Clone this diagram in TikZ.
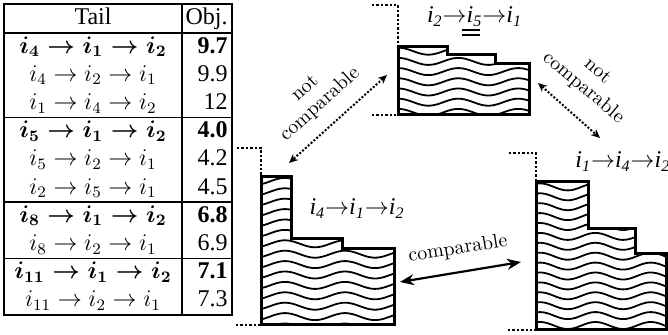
\documentclass[tikz,border=0pt]{standalone}
\usepackage{fontspec}
\newfontfamily\tnr{Liberation Serif}
\usetikzlibrary{arrows.meta}
\begin{document}
\begin{tikzpicture}[x=0.5pt,y=-0.5pt,
  tline/.style={line width=0.55pt},
  tsep/.style={line width=0.75pt},
  celltxt/.style={inner sep=0pt,anchor=base,font=\fontsize{12}{14}\selectfont},
  boldrow/.style={inner sep=0pt,anchor=base,font=\fontsize{12}{14}\selectfont\boldmath},
  cellnum/.style={inner sep=0pt,anchor=base east,font=\tnr\fontsize{12}{14}\selectfont},
  boldnum/.style={inner sep=0pt,anchor=base east,font=\tnr\fontsize{12}{14}\selectfont\bfseries},
  outline/.style={line width=1.5pt,line join=miter},
  wave/.style={line width=0.9pt},
  bracket/.style={line width=1.4pt,dash pattern=on 1.2pt off 1pt},
  dotarrow/.style={line width=1pt,dash pattern=on 1pt off 0.9pt,{Stealth[length=4.5pt,width=4pt]}-{Stealth[length=4.5pt,width=4pt]}},
  solidarrow/.style={line width=1.1pt,{Stealth[length=7pt,width=5.5pt]}-{Stealth[length=7pt,width=5.5pt]}},
  lbl/.style={inner sep=0pt,align=center,font=\fontsize{10}{11}\selectfont},
  seq/.style={inner sep=0pt,anchor=base,font=\tnr\itshape\fontsize{12}{14}\selectfont}
]
\useasboundingbox (0,0) rectangle (668,335);
\clip (0,0) rectangle (668,335);

% ---------- table ----------
\draw[tsep] (4,4) rectangle (232,315);
\draw[tline] (182,4) -- (182,315);
\draw[tline] (4,33) -- (232,33);
\draw[tsep] (4,117.6) -- (232,117.6);
\draw[tsep] (4,202.2) -- (232,202.2);
\draw[tsep] (4,258.6) -- (232,258.6);

\node[celltxt,font=\tnr\fontsize{12}{14}\selectfont] (hT) at (93,25) {Tail};
\node[cellnum] (hO) at (228,25) {Obj.};

\node[boldrow] (r1) at (93,53.2) {$i_4 \rightarrow i_1 \rightarrow i_2$};
\node[boldnum] (v1) at (228,53.2) {9.7};
\node[celltxt] (r2) at (93,81.4) {$i_4 \rightarrow i_2 \rightarrow i_1$};
\node[cellnum] (v2) at (228,81.4) {9.9};
\node[celltxt] (r3) at (93,109.6) {$i_1 \rightarrow i_4 \rightarrow i_2$};
\node[cellnum] (v3) at (228,109.6) {12};

\node[boldrow] (r4) at (93,137.8) {$i_5 \rightarrow i_1 \rightarrow i_2$};
\node[boldnum] (v4) at (228,137.8) {4.0};
\node[celltxt] (r5) at (93,166) {$i_5 \rightarrow i_2 \rightarrow i_1$};
\node[cellnum] (v5) at (228,166) {4.2};
\node[celltxt] (r6) at (93,194.2) {$i_2 \rightarrow i_5 \rightarrow i_1$};
\node[cellnum] (v6) at (228,194.2) {4.5};

\node[boldrow] (r7) at (93,222.4) {$i_8 \rightarrow i_1 \rightarrow i_2$};
\node[boldnum] (v7) at (228,222.4) {6.8};
\node[celltxt] (r8) at (93,250.6) {$i_8 \rightarrow i_2 \rightarrow i_1$};
\node[cellnum] (v8) at (228,250.6) {6.9};

\node[boldrow] (r9) at (93,278.8) {$i_{11} \rightarrow i_1 \rightarrow i_2$};
\node[boldnum] (v9) at (228,278.8) {7.1};
\node[celltxt] (r10) at (93,307) {$i_{11} \rightarrow i_2 \rightarrow i_1$};
\node[cellnum] (v10) at (228,307) {7.3};

% ---------- shape A (left) ----------
\begin{scope}
\clip (261,177) -- (291,177) -- (291,239) -- (342,239) -- (342,249) -- (394,249) -- (394,325) -- (261,325) -- cycle;
\foreach \k in {0,...,15}
  \draw[wave] plot[domain=250:400,samples=60,smooth] (\x,{171+\k*10.4+3.5*sin(6*\x)});
\end{scope}
\draw[outline] (261,177) -- (291,177) -- (291,239) -- (342,239) -- (342,249) -- (394,249) -- (394,325) -- (261,325) -- cycle;
\draw[bracket] (237,148) -- (261,148) -- (261,177);
\draw[bracket] (236,325) -- (261,325);
\node[seq] (la) at (357,215) {i\textsubscript{4}$\rightarrow$i\textsubscript{1}$\rightarrow$i\textsubscript{2}};

% ---------- shape B (top) ----------
\begin{scope}
\clip (398,47) -- (447,47) -- (447,55) -- (495,55) -- (495,64) -- (529,64) -- (529,115) -- (398,115) -- cycle;
\foreach \k in {0,...,7}
  \draw[wave] plot[domain=390:540,samples=60,smooth] (\x,{41+\k*10.2+3.5*sin(6*\x+40)});
\end{scope}
\draw[outline] (398,47) -- (447,47) -- (447,55) -- (495,55) -- (495,64) -- (529,64) -- (529,115) -- (398,115) -- cycle;
\draw[bracket] (372,5) -- (398,5) -- (398,47);
\draw[bracket] (372,115) -- (398,115);
\node[seq] (lb) at (474.5,23) {i\textsubscript{2}$\rightarrow$i\textsubscript{5}$\rightarrow$i\textsubscript{1}};
\draw[line width=1pt] (462,30) -- (480,30);
\draw[line width=1pt] (462,35) -- (480,35);

% ---------- shape C (right) ----------
\begin{scope}
\clip (536,182) -- (588,182) -- (588,229) -- (635,229) -- (635,254) -- (666,254) -- (666,330) -- (536,330) -- cycle;
\foreach \k in {0,...,16}
  \draw[wave] plot[domain=530:670,samples=60,smooth] (\x,{177+\k*9.9+3.5*sin(6.5*\x)});
\end{scope}
\draw[outline] (536,182) -- (588,182) -- (588,229) -- (635,229) -- (635,254) -- (666,254) -- (666,330) -- (536,330) -- cycle;
\draw[bracket] (509,153) -- (536,153) -- (536,182);
\draw[bracket] (508,330) -- (536,330);
\node[seq,anchor=base west] (lc) at (575,168) {i\textsubscript{1}$\rightarrow$i\textsubscript{4}$\rightarrow$i\textsubscript{2}};

% ---------- arrows and labels ----------
\coordinate (nl1) at (387,75);
\coordinate (nl2) at (289,163);
\draw[dotarrow] (nl1) -- (nl2);
\node[lbl,rotate=42] (ncl) at (313,97) {not\\comparable};

\coordinate (nr1) at (538,83);
\coordinate (nr2) at (600,138);
\draw[dotarrow] (nr1) -- (nr2);
\node[lbl,rotate=-40] (ncr) at (590,80) {not\\comparable};

\coordinate (c1) at (400,282);
\coordinate (c2) at (521,262);
\draw[solidarrow] (c1) -- (c2);
\node[lbl,rotate=9] (cl) at (458,249) {comparable};
\end{tikzpicture}
\end{document}
